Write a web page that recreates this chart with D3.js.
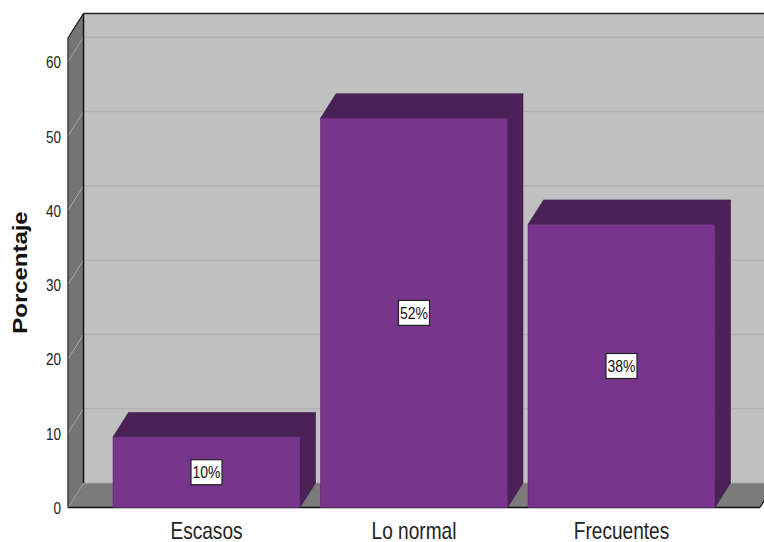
<!DOCTYPE html>
<html>
<head>
<meta charset="utf-8">
<script src="https://cdn.jsdelivr.net/npm/d3@7"></script>
<style>
  html, body { margin: 0; padding: 0; background: #fff; }
  svg { display: block; }
  text { font-family: "Liberation Sans", Arial, sans-serif; }
</style>
</head>
<body>
<svg id="chart" width="764" height="542"></svg>
<script>
// Frequency distribution (percent of respondents)
const categories = ["Escasos", "Lo normal", "Frecuentes"];
const percentages = [9.5, 52.4, 38.1];
const yTicks = [0, 10, 20, 30, 40, 50, 60];
const yTitle = "Porcentaje";

const W = 764, H = 542;
const DX = 15.5, DY = 24.5;          // 3-D depth offset
const yMax = 63.2;

const svg = d3.select("#chart");

const x = d3.scaleBand()
  .domain(categories)
  .range([68, 760])
  .paddingInner(0.099)
  .paddingOuter(0.217);

const y = d3.scaleLinear()
  .domain([0, yMax])
  .range([507.5, 38]);

const x0 = x.range()[0], x1 = x.range()[1];
const yb = y(0), yt = y(yMax);

const pts = a => a.map(p => p.join(",")).join(" ");

// Back wall
svg.append("polygon")
  .attr("points", pts([[x0 + DX, yt - DY], [x1 + DX, yt - DY], [x1 + DX, yb - DY], [x0 + DX, yb - DY]]))
  .attr("fill", "#c0c0c0");

// Gridlines on the back wall
svg.append("g").selectAll("line")
  .data(yTicks.filter(d => d > 0))
  .join("line")
  .attr("x1", x0 + DX).attr("x2", x1 + DX)
  .attr("y1", d => y(d) - DY).attr("y2", d => y(d) - DY)
  .attr("stroke", "#b1b1b1").attr("stroke-width", 1.5);

// Left wall
svg.append("polygon")
  .attr("points", pts([[x0, yb], [x0, yt], [x0 + DX, yt - DY], [x0 + DX, yb - DY]]))
  .attr("fill", "#747474")
  .attr("stroke", "#555").attr("stroke-width", 1);

// Gridlines on the left wall
svg.append("g").selectAll("line")
  .data(yTicks.filter(d => d > 0))
  .join("line")
  .attr("x1", x0).attr("x2", x0 + DX)
  .attr("y1", d => y(d)).attr("y2", d => y(d) - DY)
  .attr("stroke", "#a9a9a9").attr("stroke-width", 1);

// Floor
svg.append("polygon")
  .attr("points", pts([[x0, yb], [x0 + DX, yb - DY], [x1 + DX, yb - DY], [x1, yb]]))
  .attr("fill", "#7b7b7b");
svg.append("line")
  .attr("x1", x0 + DX).attr("x2", x1 + DX)
  .attr("y1", yb - DY).attr("y2", yb - DY)
  .attr("stroke", "#a8a8a8").attr("stroke-width", 1);
svg.append("line")
  .attr("x1", x0).attr("x2", x0 + DX)
  .attr("y1", yb).attr("y2", yb - DY)
  .attr("stroke", "#a0a0a0").attr("stroke-width", 1);

// Frame edges
svg.append("line")
  .attr("x1", x0 + DX).attr("x2", x0 + DX)
  .attr("y1", yt - DY).attr("y2", yb - DY)
  .attr("stroke", "#111").attr("stroke-width", 1.5);
svg.append("line")
  .attr("x1", x0 + DX).attr("x2", W)
  .attr("y1", yt - DY).attr("y2", yt - DY)
  .attr("stroke", "#222").attr("stroke-width", 1.6);
svg.append("line")
  .attr("x1", x0).attr("x2", x0 + DX)
  .attr("y1", yt).attr("y2", yt - DY)
  .attr("stroke", "#222").attr("stroke-width", 1.2);
svg.append("line")
  .attr("x1", x0).attr("x2", x0)
  .attr("y1", yt).attr("y2", yb)
  .attr("stroke", "#333").attr("stroke-width", 1);
svg.append("line")
  .attr("x1", x0).attr("x2", x1)
  .attr("y1", yb).attr("y2", yb)
  .attr("stroke", "#111").attr("stroke-width", 1.6);
svg.append("line")
  .attr("x1", x1).attr("x2", x1 + DX)
  .attr("y1", yb).attr("y2", yb - DY)
  .attr("stroke", "#111").attr("stroke-width", 1.2);

// Bars
const data = categories.map((c, i) => ({ c, v: percentages[i] }));
const bw = x.bandwidth();
const bars = svg.append("g").selectAll("g").data(data).join("g");

bars.append("polygon")   // top face
  .attr("points", d => {
    const l = x(d.c), r = l + bw, t = y(d.v);
    return pts([[l, t], [l + DX, t - DY], [r + DX, t - DY], [r, t]]);
  })
  .attr("fill", "#4a2157").attr("stroke", "#3f1c4b").attr("stroke-width", 0.6);

bars.append("polygon")   // side face
  .attr("points", d => {
    const r = x(d.c) + bw, t = y(d.v);
    return pts([[r, t], [r + DX, t - DY], [r + DX, yb - DY], [r, yb]]);
  })
  .attr("fill", "#4b2158").attr("stroke", "#3f1c4b").attr("stroke-width", 0.6);

bars.append("rect")      // front face
  .attr("x", d => x(d.c))
  .attr("y", d => y(d.v))
  .attr("width", bw)
  .attr("height", d => yb - y(d.v))
  .attr("fill", "#77368b").attr("stroke", "#5a2868").attr("stroke-width", 0.6);

// Value labels, centred on each front face
const fmt = v => Math.round(v) + "%";
const lab = bars.append("g")
  .attr("transform", d => `translate(${x(d.c) + bw / 2},${(y(d.v) + yb) / 2})`);
lab.append("rect")
  .attr("x", -15.5).attr("y", -12.5)
  .attr("width", 31).attr("height", 25)
  .attr("fill", "#fff").attr("stroke", "#222").attr("stroke-width", 1.2);
lab.append("text")
  .attr("text-anchor", "middle")
  .attr("dy", "0.36em")
  .attr("transform", "scale(0.82,1)")
  .attr("font-size", 17)
  .attr("fill", "#111")
  .text(d => fmt(d.v));

// Y axis labels
const yAxis = svg.append("g")
  .attr("transform", "translate(61,0)")
  .call(d3.axisLeft(y).tickValues(yTicks).tickSize(0).tickPadding(0).tickFormat(d3.format("d")));
yAxis.select(".domain").remove();
yAxis.selectAll("text")
  .attr("font-family", "'Liberation Sans', Arial, sans-serif")
  .attr("font-size", 16.5)
  .attr("fill", "#222")
  .attr("dy", "0.36em")
  .attr("transform", "scale(0.82,1)");

// X axis labels
const xAxis = svg.append("g")
  .attr("transform", `translate(0,${yb})`)
  .call(d3.axisBottom(x).tickSize(0).tickPadding(15));
xAxis.select(".domain").remove();
xAxis.selectAll("text")
  .attr("font-family", "'Liberation Sans', Arial, sans-serif")
  .attr("font-size", 23)
  .attr("fill", "#222")
  .attr("transform", "scale(0.83,1)");

// Y axis title
svg.append("text")
  .attr("transform", "translate(26.5,272.5) rotate(-90) scale(1.14,1)")
  .attr("text-anchor", "middle")
  .attr("font-size", 21)
  .attr("font-weight", "bold")
  .attr("fill", "#111")
  .text(yTitle);
</script>
</body>
</html>
